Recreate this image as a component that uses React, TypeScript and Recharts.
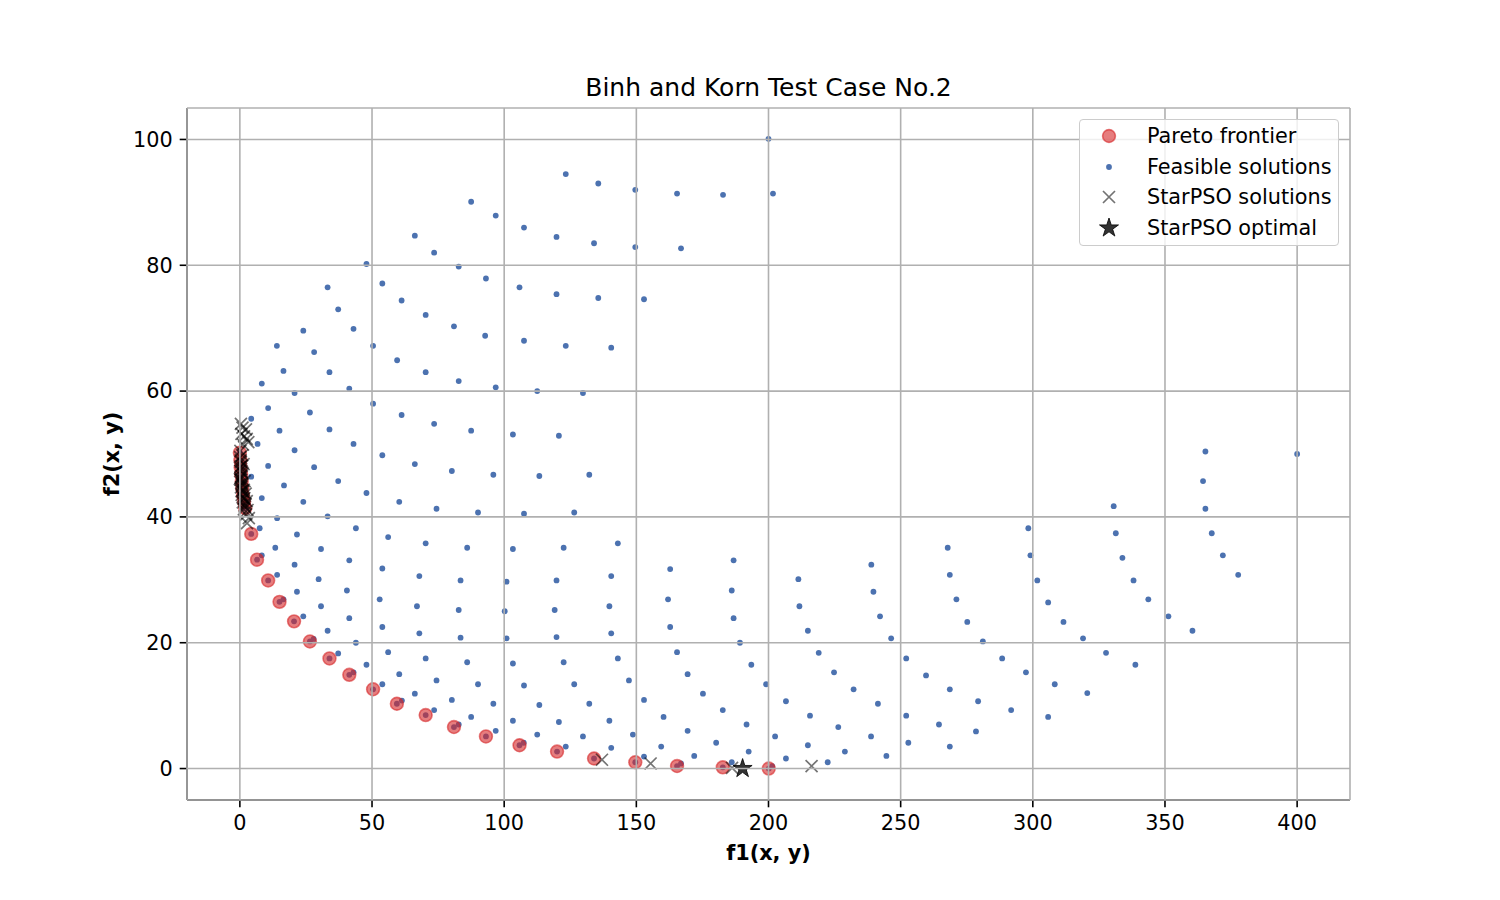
import React from "react"
import { ScatterChart, Scatter, XAxis, YAxis, CartesianGrid } from "recharts"

// Binh & Korn test case no.2 — feasible set, Pareto frontier and StarPSO results

const FONT = "'DejaVu Sans', 'Liberation Sans', sans-serif"

const xTicks = [0, 50, 100, 150, 200, 250, 300, 350, 400]
const yTicks = [0, 20, 40, 60, 80, 100]

// [f1, f2]
const feasible: [number, number][] = [
  [200, 100.1], [123.3, 94.5], [135.6, 93.0], [149.6, 92.0], [165.4, 91.4], [182.8, 91.2], [201.7, 91.4],
  [87.5, 90.1], [96.8, 87.9], [107.5, 86.0], [119.8, 84.5], [134.0, 83.5], [149.6, 82.9], [166.9, 82.7],
  [66.2, 84.7], [73.5, 82.0], [82.8, 79.8], [93.1, 77.9], [105.8, 76.5], [119.8, 75.4], [135.6, 74.8], [152.9, 74.6],
  [47.9, 80.2], [33.2, 76.5], [53.9, 77.1], [61.2, 74.4], [70.3, 72.1], [81.0, 70.3], [92.8, 68.8], [37.2, 73.0],
  [24.0, 69.6], [43.0, 69.9], [107.5, 68.0], [123.3, 67.2], [140.5, 66.9],
  [14.0, 67.2], [28.1, 66.2], [50.4, 67.2], [59.5, 64.9], [70.3, 63.0], [82.8, 61.6], [16.5, 63.2], [33.9, 63.0],
  [41.4, 60.4], [8.3, 61.2], [20.7, 59.7], [50.4, 58.0], [10.7, 57.3], [26.5, 56.6], [61.2, 56.2], [73.5, 54.8],
  [87.5, 53.7], [4.3, 55.6], [15.0, 53.7], [33.9, 53.9], [43.0, 51.6], [6.7, 51.6], [20.7, 50.6], [53.9, 49.8],
  [66.2, 48.4], [80.2, 47.3], [10.7, 48.1], [28.1, 47.9], [37.2, 45.7], [47.9, 43.8], [60.3, 42.4], [74.4, 41.3],
  [90.1, 40.7], [4.3, 46.4], [16.7, 45.0], [8.3, 43.0], [24.0, 42.4], [14.1, 39.8], [33.2, 40.1], [7.5, 38.2],
  [21.6, 37.2], [43.9, 38.2], [56.1, 36.8], [70.3, 35.8], [86.0, 35.1], [13.4, 35.1], [30.7, 34.9], [8.3, 33.9],
  [20.7, 32.4], [41.4, 33.1], [53.9, 31.8],
  [96.8, 60.6], [112.5, 60.0], [129.8, 59.7], [103.3, 53.1], [120.7, 52.9], [95.9, 46.7], [113.3, 46.5],
  [132.2, 46.7], [107.5, 40.5], [126.5, 40.7], [103.3, 34.9], [122.5, 35.1], [143.0, 35.8], [162.8, 31.7], [186.8, 33.1],
  [67.9, 30.6], [83.5, 29.9], [14.1, 30.8], [29.8, 30.1], [21.6, 28.1], [40.5, 28.3], [52.9, 26.9], [67.0, 25.8],
  [82.8, 25.2], [16.5, 26.9], [30.7, 25.8], [24.0, 24.2], [41.4, 23.9], [53.9, 22.5], [67.9, 21.5], [83.5, 20.8],
  [33.2, 21.9], [27.9, 20.6], [43.9, 20.0], [56.1, 18.5], [70.3, 17.5], [86.0, 16.9], [37.2, 18.3], [47.9, 16.5],
  [43.0, 15.3], [60.3, 15.0], [74.4, 14.0], [90.1, 13.4], [53.9, 13.4], [66.2, 11.9], [80.2, 10.9], [61.3, 10.8],
  [73.5, 9.3], [87.5, 8.2], [82.8, 7.0],
  [100.9, 29.7], [119.8, 29.9], [140.5, 30.6], [211.3, 30.1], [100.2, 25.0], [119.1, 25.2], [139.8, 25.8],
  [162.0, 26.9], [186.1, 28.3], [211.7, 25.8], [100.9, 20.7], [119.8, 20.9], [140.5, 21.5], [162.8, 22.5],
  [186.8, 23.9], [189.2, 20.0], [103.3, 16.7], [122.5, 16.9], [143.0, 17.5], [165.4, 18.5], [193.5, 16.5],
  [107.5, 13.2], [126.5, 13.4], [147.2, 14.0], [169.4, 15.0], [199.1, 13.4], [95.9, 10.3], [113.3, 10.1],
  [132.2, 10.3], [152.9, 10.9], [175.2, 11.9], [206.6, 10.7], [103.3, 7.6], [120.7, 7.4], [139.8, 7.6],
  [160.3, 8.2], [182.7, 9.3], [96.8, 6.0], [112.5, 5.4], [129.8, 5.1], [148.7, 5.4], [169.4, 6.0], [191.7, 7.0],
  [202.5, 5.1], [107.4, 4.1], [123.3, 3.5], [140.5, 3.3], [159.4, 3.5], [180.2, 4.1], [192.5, 2.7], [206.6, 1.6],
  [152.9, 1.9], [171.9, 2.0], [166.9, 0.8], [186.1, 1.0], [201.4, 0.4],
  [214.9, 21.9], [219.0, 18.4], [224.8, 15.3], [232.2, 12.6], [241.4, 10.3], [215.7, 8.4], [226.4, 6.6],
  [238.8, 5.1], [214.9, 3.7], [228.9, 2.7], [244.6, 2.0], [222.4, 1.0], [238.9, 32.4], [239.7, 28.1],
  [242.2, 24.2], [246.4, 20.7], [252.1, 17.5], [259.6, 14.8], [268.6, 12.6], [279.3, 10.7], [291.8, 9.3],
  [252.1, 8.4], [264.5, 7.0], [278.5, 5.9], [252.9, 4.1], [268.6, 3.5], [267.8, 35.1], [268.6, 30.8],
  [271.1, 26.9], [275.2, 23.3], [281.1, 20.2], [288.4, 17.5], [297.4, 15.3], [305.8, 8.2], [308.3, 13.4],
  [320.6, 12.0], [298.3, 38.2], [299.1, 33.9], [301.7, 29.9], [305.8, 26.4], [311.6, 23.3], [319.0, 20.7],
  [327.7, 18.4],
  [365.3, 50.4], [400, 50], [364.4, 45.7], [330.6, 41.7], [365.3, 41.3], [331.4, 37.4], [367.7, 37.4],
  [333.9, 33.5], [371.9, 33.9], [338.1, 29.9], [377.7, 30.8], [343.7, 26.9], [351.3, 24.2], [360.4, 21.9],
  [338.8, 16.5],
]

const pareto: [number, number][] = [
  [0.0, 50.2], [0.2, 49.0], [0.3, 47.9], [0.5, 46.8], [0.7, 45.6], [0.9, 44.5], [1.2, 43.4], [1.6, 42.4],
  [2.0, 41.4], [4.3, 37.3], [6.5, 33.2], [10.7, 29.9], [15.0, 26.5], [20.5, 23.4], [26.5, 20.2], [33.9, 17.5],
  [41.4, 14.9], [50.4, 12.6], [59.4, 10.3], [70.3, 8.5], [81.0, 6.6], [93.1, 5.1], [105.8, 3.7], [120.0, 2.7],
  [134.0, 1.6], [149.6, 1.0], [165.4, 0.4], [182.7, 0.2], [200.1, 0.0],
]

const starPsoSolutions: [number, number][] = [
  [0.4, 54.8], [1.0, 54.2], [2.3, 53.9], [0.6, 53.2], [1.6, 52.8], [3.2, 51.9], [2.6, 52.4], [1.2, 51.5],
  [0.2, 50.5], [0.9, 49.8], [0.3, 49.0], [1.4, 48.4], [0.5, 47.6], [1.1, 46.9], [0.2, 46.2], [1.8, 45.7],
  [0.8, 45.0], [1.5, 44.3], [2.2, 43.7], [1.0, 43.1], [2.6, 42.5], [1.8, 41.8], [2.9, 41.1], [2.4, 40.4],
  [3.4, 39.8], [2.7, 39.0],
  [0.1, 49.5], [0.4, 48.7], [0.7, 48.1], [0.1, 47.3], [0.6, 46.5], [0.3, 45.9], [0.9, 45.3], [0.4, 44.7],
  [1.2, 44.0], [0.7, 43.5], [1.4, 42.9], [1.1, 42.3], [1.9, 41.6], [1.5, 41.2], [0.2, 48.0], [0.8, 47.2],
  [0.5, 45.4], [1.0, 44.2], [1.7, 43.0], [2.1, 42.1], [0.0, 46.0], [0.6, 44.1],
  [137.0, 1.4], [155.4, 0.8], [186.2, 0.1], [216.3, 0.4],
]

const starPsoOptimal: [number, number][] = [[190.2, 0.0]]

const toRows = (pts: [number, number][]) => pts.map(([f1, f2]) => ({ f1, f2 }))

const BLUE = "#4c72b0"
const RED = "#d62728"

function starPath(cx: number, cy: number, R: number) {
  const r = R * 0.382
  let d = ""
  for (let i = 0; i < 10; i++) {
    const rad = i % 2 === 0 ? R : r
    const a = -Math.PI / 2 + (i * Math.PI) / 5
    d += (i === 0 ? "M" : "L") + (cx + rad * Math.cos(a)).toFixed(2) + "," + (cy + rad * Math.sin(a)).toFixed(2)
  }
  return d + "Z"
}

const BlueDot = (p: any) => <circle cx={p.cx} cy={p.cy} r={2.9} fill={BLUE} />

const RedDot = (p: any) => (
  <circle cx={p.cx} cy={p.cy} r={6.4} fill={RED} fillOpacity={0.6} stroke={RED} strokeOpacity={0.6} strokeWidth={1.6} />
)

const Cross = (p: any) => {
  const s = 6
  return (
    <path
      d={`M${p.cx - s},${p.cy - s}L${p.cx + s},${p.cy + s}M${p.cx - s},${p.cy + s}L${p.cx + s},${p.cy - s}`}
      stroke="#000"
      strokeOpacity={0.55}
      strokeWidth={1.7}
      fill="none"
    />
  )
}

const Star = (p: any) => (
  <path d={starPath(p.cx, p.cy, 10)} fill="#000" fillOpacity={0.8} stroke="#000" strokeOpacity={0.8} strokeWidth={1} />
)

const tickStyle = { fontSize: 20.8, fill: "#000", fontFamily: FONT }
const lineStyle = { stroke: "#000", strokeWidth: 1.6 }

function XLabel(props: any) {
  const { x, y, width } = props.viewBox
  return (
    <text x={x + width / 2} y={y + 53} textAnchor="middle" dominantBaseline="central"
      fontFamily={FONT} fontSize={20.8} fontWeight="bold" fill="#000">
      f1(x, y)
    </text>
  )
}

function YLabel(props: any) {
  const { x, y, height } = props.viewBox
  const cx = x + 112
  const cy = y + height / 2
  return (
    <text x={cx} y={cy} transform={`rotate(-90 ${cx} ${cy})`} textAnchor="middle" dominantBaseline="central"
      fontFamily={FONT} fontSize={20.8} fontWeight="bold" fill="#000">
      f2(x, y)
    </text>
  )
}

function LegendBox() {
  const rows: { label: string; marker: React.ReactNode }[] = [
    { label: "Pareto frontier", marker: <RedDot cx={14} cy={14} /> },
    { label: "Feasible solutions", marker: <BlueDot cx={14} cy={14} /> },
    { label: "StarPSO solutions", marker: <Cross cx={14} cy={14} /> },
    { label: "StarPSO optimal", marker: <Star cx={14} cy={14} /> },
  ]
  return (
    <div
      style={{
        position: "absolute",
        left: 1079,
        top: 119,
        width: 260,
        height: 127,
        boxSizing: "border-box",
        border: "1.6px solid #cccccc",
        borderRadius: 4,
        background: "rgba(255,255,255,0.8)",
        fontFamily: FONT,
        fontSize: 20.8,
        color: "#000",
        paddingTop: 1,
      }}
    >
      {rows.map((r) => (
        <div key={r.label} style={{ display: "flex", alignItems: "center", height: 30.5 }}>
          <svg width={28} height={28} style={{ marginLeft: 15, marginRight: 24, overflow: "visible" }}>
            {r.marker}
          </svg>
          <span style={{ lineHeight: "30px", whiteSpace: "nowrap" }}>{r.label}</span>
        </div>
      ))}
    </div>
  )
}

export default function App() {
  return (
    <div style={{ position: "absolute", left: 0, top: 0, width: 1500, height: 900, background: "#fff" }}>
      <div
        style={{
          position: "absolute",
          left: 187,
          width: 1163,
          top: 73,
          textAlign: "center",
          fontFamily: FONT,
          fontSize: 25,
          lineHeight: "30px",
          color: "#000",
        }}
      >
        Binh and Korn Test Case No.2
      </div>
      <ScatterChart width={1500} height={900} margin={{ top: 108, right: 150, bottom: 0, left: 0 }}>
        <XAxis
          type="number"
          dataKey="f1"
          domain={[-20, 420]}
          ticks={xTicks}
          height={100}
          tickSize={7.3}
          tickMargin={8}
          tick={tickStyle}
          axisLine={lineStyle}
          tickLine={lineStyle}
          allowDataOverflow
          label={<XLabel />}
        />
        <XAxis xAxisId="top" orientation="top" type="number" domain={[-20, 420]} height={0}
          tick={false} tickLine={false} axisLine={lineStyle} />
        <YAxis
          type="number"
          dataKey="f2"
          domain={[-5, 105]}
          ticks={yTicks}
          width={187}
          tickSize={7.3}
          tickMargin={7}
          tick={tickStyle}
          axisLine={lineStyle}
          tickLine={lineStyle}
          allowDataOverflow
          label={<YLabel />}
        />
        <YAxis yAxisId="right" orientation="right" type="number" domain={[-5, 105]} width={0}
          tick={false} tickLine={false} axisLine={lineStyle} />
        <Scatter data={toRows([...feasible, ...pareto])} shape={BlueDot} isAnimationActive={false} />
        <Scatter data={toRows(pareto)} shape={RedDot} isAnimationActive={false} />
        <Scatter data={toRows(starPsoSolutions)} shape={Cross} isAnimationActive={false} />
        <Scatter data={toRows(starPsoOptimal)} shape={Star} isAnimationActive={false} />
        <CartesianGrid stroke="#b0b0b0" strokeWidth={1.6} zIndex={1000} />
      </ScatterChart>
      <LegendBox />
    </div>
  )
}
